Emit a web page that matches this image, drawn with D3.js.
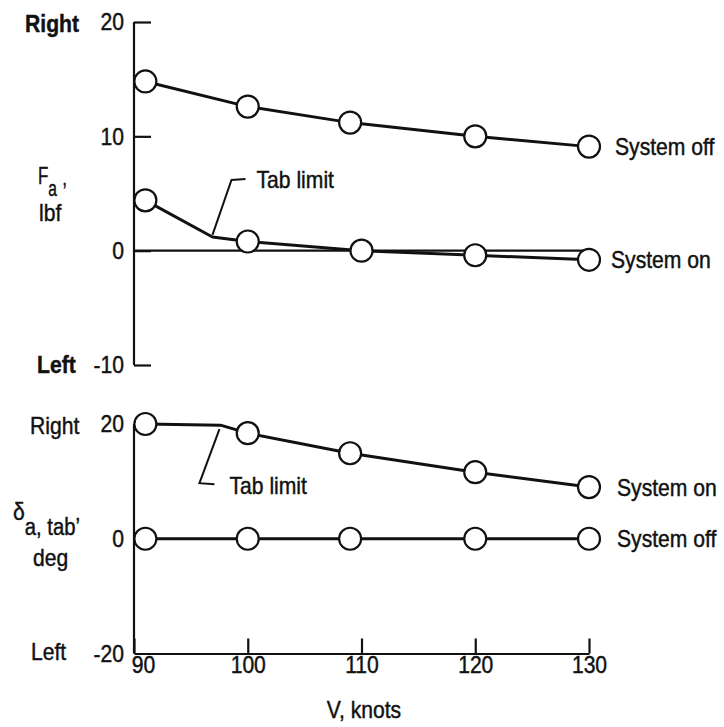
<!DOCTYPE html>
<html>
<head>
<meta charset="utf-8">
<script src="https://cdn.jsdelivr.net/npm/d3@7"></script>
<style>
  html, body { margin: 0; padding: 0; background: #fff; }
  svg { display: block; }
  text { font-family: "Liberation Sans", Arial, sans-serif; fill: #111; stroke: #111; stroke-width: 0.45px; }
</style>
</head>
<body>
<svg id="chart" width="724" height="727"></svg>
<script>
// Airspeed, knots
const xTicks = [90, 100, 110, 120, 130];
const xDomain = [90, 130];

// Upper panel: aileron force F_a, lbf
const forceTicks = [20, 10, 0, -10];
const forceDomain = [-10, 20];
const forceOffV = [91, 100, 109, 120, 130];
const forceOff  = [14.8, 12.6, 11.2, 10.0, 9.1];
const forceOnV  = [91, 100, 110, 120, 130];
const forceOn   = [4.4, 0.8, 0.0, -0.4, -0.8];
const forceTabLimit = [96.9, 1.2];   // V, F_a at the tab-limit break

// Lower panel: tab deflection, deg
const tabTicks = [20, 0, -20];
const tabDomain = [-20, 20];
const tabOnV  = [91, 100, 109, 120, 130];
const tabOn   = [20, 18.4, 14.9, 11.6, 9.0];
const tabOffV = [91, 100, 109, 120, 130];
const tabOff  = [0, 0, 0, 0, 0];
const tabTabLimit = [97.6, 19.8];

const svg = d3.select("#chart");
const FS = 24;
const NARROW = 0.88;  // horizontal condensing applied to all lettering
const INK = "#111";

const x = d3.scaleLinear().domain(xDomain).range([134, 589]);
const yTop = d3.scaleLinear().domain(forceDomain).range([365, 22]);
const yBot = d3.scaleLinear().domain(tabDomain).range([653.5, 424]);

const zip = (a, b) => a.map((v, i) => [v, b[i]]);
const plain = d => String(d);

function styleAxis(g) {
  g.selectAll(".domain").attr("stroke", INK).attr("stroke-width", 2.2);
  g.selectAll(".tick line").attr("stroke", INK).attr("stroke-width", 2.2);
  g.selectAll(".tick text").attr("font-size", FS).attr("fill", INK).attr("font-family", null);
}

// ---------- Upper panel ----------
const gTopAxis = svg.append("g").attr("transform", `translate(${x(90)},0)`)
  .call(d3.axisLeft(yTop).tickValues(forceTicks).tickSizeInner(-17).tickSizeOuter(0).tickPadding(10).tickFormat(plain))
  .call(styleAxis);
gTopAxis.select(".domain").attr("d", `M0,${yTop(20)}V${yTop(-10)}`);

// zero reference line
svg.append("line")
  .attr("x1", x(90)).attr("x2", x(130))
  .attr("y1", yTop(0)).attr("y2", yTop(0))
  .attr("stroke", INK).attr("stroke-width", 2.2);

const lineTop = d3.line().x(d => x(d[0])).y(d => yTop(d[1]));
const lineBot = d3.line().x(d => x(d[0])).y(d => yBot(d[1]));

function drawSeries(pts, line, yScale, linePts) {
  svg.append("path").attr("d", line(linePts || pts))
    .attr("fill", "none").attr("stroke", INK).attr("stroke-width", 3)
    .attr("stroke-linejoin", "round");
  svg.append("g").selectAll("circle").data(pts).join("circle")
    .attr("cx", d => x(d[0])).attr("cy", d => yScale(d[1])).attr("r", 11)
    .attr("fill", "#fff").attr("stroke", INK).attr("stroke-width", 2.2);
}

const topOff = zip(forceOffV, forceOff);
const topOn = zip(forceOnV, forceOn);
drawSeries(topOff, lineTop, yTop);
drawSeries(topOn, lineTop, yTop, [topOn[0], forceTabLimit, ...topOn.slice(1)]);

// Tab limit callout (upper)
{
  const [bx, by] = [x(forceTabLimit[0]), yTop(forceTabLimit[1])];
  svg.append("path")
    .attr("d", `M${bx},${by - 2}L${bx + 19},${by - 57}L${bx + 33},${by - 58}`)
    .attr("fill", "none").attr("stroke", INK).attr("stroke-width", 2);
  svg.append("text").attr("x", bx + 44).attr("y", by - 57).attr("dy", "0.35em")
    .attr("font-size", FS).text("Tab limit");
}

svg.append("text").attr("x", x(130) + 26).attr("y", yTop(forceOff[4])).attr("dy", "0.35em")
  .attr("font-size", FS).text("System off");
svg.append("text").attr("x", x(130) + 22).attr("y", yTop(forceOn[4])).attr("dy", "0.35em")
  .attr("font-size", FS).text("System on");

// Upper axis annotations
svg.append("text").attr("x", 25).attr("y", yTop(20) + 2).attr("dy", "0.35em")
  .attr("font-size", FS).attr("font-weight", "bold").text("Right");
svg.append("text").attr("x", 37).attr("y", yTop(-10)).attr("dy", "0.35em")
  .attr("font-size", FS).attr("font-weight", "bold").text("Left");
{
  const t = svg.append("text").attr("x", 38).attr("y", 184).attr("font-size", FS);
  t.append("tspan").text("F");
  t.append("tspan").attr("dy", 12).attr("font-size", 22).text("a");
  t.append("tspan").attr("dy", 4).attr("dx", 8).text("’");
  svg.append("text").attr("x", 39).attr("y", 221).attr("font-size", FS).text("lbf");
}

// ---------- Lower panel ----------
const gBotY = svg.append("g").attr("transform", `translate(${x(90)},0)`)
  .call(d3.axisLeft(yBot).tickValues(tabTicks).tickSize(0).tickPadding(10).tickFormat(plain))
  .call(styleAxis);
gBotY.select(".domain").attr("d", `M0,${yBot(20)}V${yBot(-20)}`);

const gBotX = svg.append("g").attr("transform", `translate(0,${yBot(-20)})`)
  .call(d3.axisBottom(x).tickValues(xTicks).tickSizeInner(-15).tickSizeOuter(0).tickPadding(2).tickFormat(plain))
  .call(styleAxis);
gBotX.selectAll(".tick text").attr("dx", d => d === 90 ? 9 : 0);

const botOn = zip(tabOnV, tabOn);
const botOff = zip(tabOffV, tabOff);
drawSeries(botOn, lineBot, yBot, [botOn[0], tabTabLimit, ...botOn.slice(1)]);
drawSeries(botOff, lineBot, yBot);

// Tab limit callout (lower)
{
  const [bx, by] = [x(tabTabLimit[0]), yBot(tabTabLimit[1])];
  svg.append("path")
    .attr("d", `M${bx - 1},${by + 4}L${bx - 21},${by + 58}L${bx - 6},${by + 59}`)
    .attr("fill", "none").attr("stroke", INK).attr("stroke-width", 2);
  svg.append("text").attr("x", bx + 9).attr("y", by + 60).attr("dy", "0.35em")
    .attr("font-size", FS).text("Tab limit");
}

svg.append("text").attr("x", x(130) + 28).attr("y", yBot(tabOn[4])).attr("dy", "0.35em")
  .attr("font-size", FS).text("System on");
svg.append("text").attr("x", x(130) + 28).attr("y", yBot(tabOff[4])).attr("dy", "0.35em")
  .attr("font-size", FS).text("System off");

// Lower axis annotations
svg.append("text").attr("x", 30).attr("y", yBot(20) + 2).attr("dy", "0.35em")
  .attr("font-size", FS).text("Right");
svg.append("text").attr("x", 31).attr("y", yBot(-20) - 2).attr("dy", "0.35em")
  .attr("font-size", FS).text("Left");
{
  const t = svg.append("text").attr("x", 13).attr("y", 520).attr("font-size", FS);
  t.append("tspan").text("δ");
  t.append("tspan").attr("dy", 15).attr("font-size", 23).text("a, tab’");
  svg.append("text").attr("x", 33).attr("y", 566).attr("font-size", FS).text("deg");
}

// x-axis title
svg.append("text").attr("x", 364).attr("y", 710).attr("dy", "0.35em")
  .attr("text-anchor", "middle").attr("font-size", FS).text("V,  knots");

// Condense every label horizontally (narrow lettering)
svg.selectAll("text").each(function () {
  const w = this.getComputedTextLength();
  if (w > 0) {
    d3.select(this).attr("textLength", (w * NARROW).toFixed(1)).attr("lengthAdjust", "spacingAndGlyphs");
  }
});
</script>
</body>
</html>
